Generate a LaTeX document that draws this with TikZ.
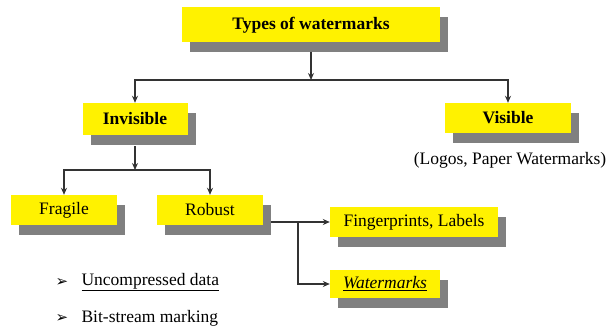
\documentclass[tikz,border=0pt]{standalone}
\usepackage{fontspec}
\setmainfont{Liberation Serif}
\newfontfamily\symfont{DejaVu Sans}
\usetikzlibrary{shadows,arrows.meta}
\newcommand{\wmfont}{\fontsize{17.5}{20}\selectfont}
\tikzset{
  wmbox/.style={fill=yellow, inner sep=0pt, minimum height=30pt, font=\wmfont,
    drop shadow={shadow xshift=8pt, shadow yshift=-10pt, fill=black!50, opacity=1}},
  wire/.style={draw=black!80, line width=1.4pt},
  link/.style={wire, -{Stealth[length=7pt,width=6pt]}}
}

\begin{document}
\begin{tikzpicture}[x=1pt,y=-1pt]
  \useasboundingbox (0,0) rectangle (607,331);
  % boxes
  \node[wmbox, minimum width=258pt, minimum height=35pt, font=\wmfont\bfseries] (types) at (311,25) {Types of watermarks};
  \node[wmbox, minimum width=105pt, minimum height=32pt, font=\wmfont\bfseries] (invis) at (135,119) {Invisible};
  \node[wmbox, minimum width=126pt, font=\wmfont\bfseries] (vis) at (508,118) {Visible};
  \node[font=\wmfont] (logos) at (510,160) {(Logos, Paper Watermarks)};
  \node[wmbox, minimum width=106pt] (fragile) at (64,210) {Fragile};
  \node[wmbox, minimum width=106pt] (robust) at (210,210) {Robust};
  \node[wmbox, minimum width=168pt] (fing) at (414,222) {Fingerprints, Labels};
  \node[wmbox, minimum width=110pt, minimum height=28pt] (wmk) at (385,284) {\underline{\textit{Watermarks}}};
  % bullets
  \node[font=\symfont\fontsize{15}{16}\selectfont] (dot1) at (62,282) {➢};
  \node[font=\wmfont, anchor=west] (item1) at (78,282) {\underline{Uncompressed data}};
  \node[font=\symfont\fontsize{15}{16}\selectfont] (dot2) at (62,318) {➢};
  \node[font=\wmfont, anchor=west] (item2) at (78,318) {Bit-stream marking};
  % connectors
  \coordinate (j1) at (311,80);
  \coordinate (j2) at (135,170);
  \coordinate (j3) at (298,222);
  \draw[link, shorten <=9pt] (types) -- (j1);
  \draw[link] (j1) -| (invis);
  \draw[link] (j1) -| (vis);
  \draw[link, shorten <=11pt] (invis) -- (j2);
  \draw[link] (j2) -| (fragile);
  \draw[link] (j2) -| (robust);
  \draw[wire] ([xshift=8pt]robust.east |- j3) -- (j3);
  \draw[link] (j3) -- (fing);
  \draw[link] (j3) |- (wmk);
\end{tikzpicture}
\end{document}
